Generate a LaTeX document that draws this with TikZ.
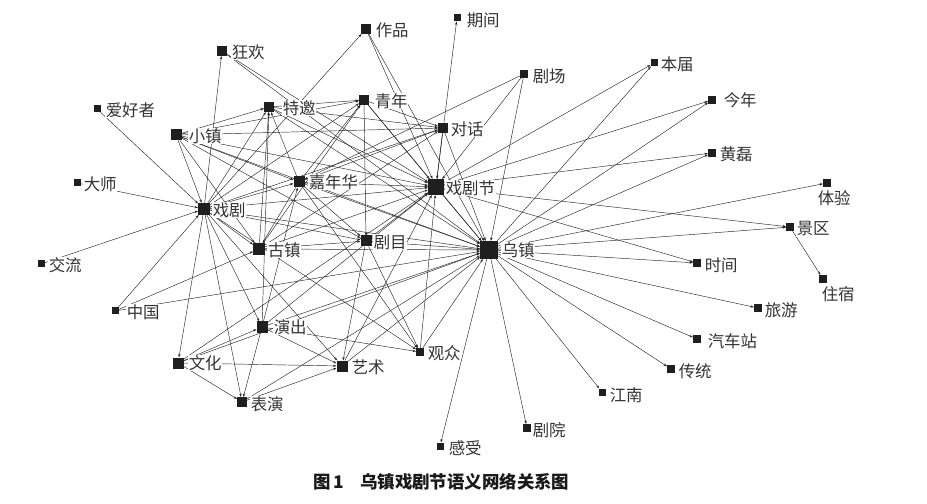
\documentclass[tikz,border=0pt]{standalone}
\usepackage{fontspec}
\newfontfamily\cjk{Noto Sans CJK SC}
\usetikzlibrary{arrows.meta}
\pgfdeclarelayer{bg}
\pgfsetlayers{bg,main}
\begin{document}
\begin{tikzpicture}[x=1bp,y=-1bp,
  sq/.style={fill=black!88, draw=none, minimum size=#1, inner sep=0pt, outer sep=0pt},
  lbl/.style={anchor=west, fill=white, inner sep=0.6bp, font=\cjk\fontsize{16.5}{17}\selectfont, text=black!80},
  lblb/.style={anchor=north west, fill=white, inner sep=0.6bp, font=\cjk\fontsize{16.5}{17}\selectfont, text=black!80},
  edge/.style={-{Stealth[length=3.5bp,width=2.4bp]}, line width=0.45bp, black!85},
  captext/.style={anchor=west, inner sep=0pt, font=\cjk\bfseries\fontsize{17.5}{18}\selectfont, text=black!90}]
\useasboundingbox (0,0) rectangle (927,504);
% squares
\node[sq=7bp]  (qijian)     at (457,18)  {};
\node[sq=10bp] (zuopin)     at (366,29)  {};
\node[sq=10bp] (kuanghuan)  at (222,51)  {};
\node[sq=8bp]  (juchang)    at (524,74)  {};
\node[sq=7bp]  (benjie)     at (654,63)  {};
\node[sq=8bp]  (jinnian)    at (712,100) {};
\node[sq=10bp] (teyao)      at (269,107) {};
\node[sq=10bp] (qingnian)   at (364,100) {};
\node[sq=7bp]  (aihaozhe)   at (97,109)  {};
\node[sq=11bp] (xiaozhen)   at (176,135) {};
\node[sq=10bp] (duihua)     at (443,128) {};
\node[sq=8bp]  (huanglei)   at (712,153) {};
\node[sq=7bp]  (dashi)      at (77,183)  {};
\node[sq=11bp] (jianianhua) at (299,182) {};
\node[sq=16bp] (xjj)        at (436,187) {};
\node[sq=8bp]  (tiyan)      at (827,183) {};
\node[sq=12bp] (xiju)       at (204,209) {};
\node[sq=8bp]  (jingqu)     at (790,227) {};
\node[sq=11bp] (jumu)       at (366,241) {};
\node[sq=12bp] (guzhen)     at (259,249) {};
\node[sq=18bp] (wuzhen)     at (489,250) {};
\node[sq=7bp]  (jiaoliu)    at (41,264)  {};
\node[sq=8bp]  (shijian)    at (697,263) {};
\node[sq=8bp]  (zhusu)      at (823,279) {};
\node[sq=7bp]  (zhongguo)   at (115,311) {};
\node[sq=8bp]  (lvyou)      at (758,308) {};
\node[sq=11bp] (yanchu)     at (262,327) {};
\node[sq=8bp]  (guanzhong)  at (420,352) {};
\node[sq=8bp]  (qichezhan)  at (697,339) {};
\node[sq=11bp] (wenhua)     at (178,363) {};
\node[sq=11bp] (yishu)      at (342,366) {};
\node[sq=8bp]  (chuantong)  at (671,369) {};
\node[sq=7bp]  (jiangnan)   at (602,392) {};
\node[sq=10bp] (biaoyan)    at (242,402) {};
\node[sq=8bp]  (juyuan)     at (527,428) {};
\node[sq=7bp]  (ganshou)    at (440,446) {};
% labels
\node[lbl] (l-qijian)     at (466,20)  {期间};
\node[lbl] (l-zuopin)     at (375,30)  {作品};
\node[lbl] (l-kuanghuan)  at (231,52)  {狂欢};
\node[lbl] (l-juchang)    at (532,76)  {剧场};
\node[lbl] (l-benjie)     at (660,64)  {本届};
\node[lbl] (l-jinnian)    at (723,100) {今年};
\node[lbl] (l-teyao)      at (282,108) {特邀};
\node[lbl] (l-qingnian)   at (374,101) {青年};
\node[lbl] (l-aihaozhe)   at (105,110) {爱好者};
\node[lbl] (l-xiaozhen)   at (188,136) {小镇};
\node[lbl] (l-duihua)     at (450,129) {对话};
\node[lbl] (l-huanglei)   at (719,154) {黄磊};
\node[lbl] (l-dashi)      at (83,184)  {大师};
\node[lbl] (l-jianianhua) at (308,182) {嘉年华};
\node[lbl] (l-xjj)        at (445,188) {戏剧节};
\node[lblb] (l-tiyan)     at (817,190) {体验};
\node[lbl] (l-xiju)       at (212,210) {戏剧};
\node[lbl] (l-jingqu)     at (796,229) {景区};
\node[lbl] (l-jumu)       at (373,242) {剧目};
\node[lbl] (l-guzhen)     at (267,250) {古镇};
\node[lbl] (l-wuzhen)     at (501,250) {乌镇};
\node[lbl] (l-jiaoliu)    at (48,265)  {交流};
\node[lbl] (l-shijian)    at (704,265) {时间};
\node[lblb] (l-zhusu)     at (821,286) {住宿};
\node[lbl] (l-zhongguo)   at (126,312) {中国};
\node[lbl] (l-lvyou)      at (764,310) {旅游};
\node[lbl] (l-yanchu)     at (273,327) {演出};
\node[lbl] (l-guanzhong)  at (427,353) {观众};
\node[lbl] (l-qichezhan)  at (707,341) {汽车站};
\node[lbl] (l-wenhua)     at (188,363) {文化};
\node[lbl] (l-yishu)      at (351,367) {艺术};
\node[lbl] (l-chuantong)  at (678,371) {传统};
\node[lbl] (l-jiangnan)   at (609,395) {江南};
\node[lbl] (l-biaoyan)    at (250,404) {表演};
\node[lbl] (l-juyuan)     at (532,430) {剧院};
\node[lbl] (l-ganshou)    at (448,448) {感受};
% caption
\node[captext] (caption) at (313,482) {图\,1\hspace{16bp}乌镇戏剧节语义网络关系图};
% edges
\begin{pgfonlayer}{bg}
\foreach \a/\b in {
  xiaozhen/teyao, xiaozhen/qingnian, xiaozhen/duihua, xiaozhen/jianianhua, xiaozhen/xiju,
  xiaozhen/guzhen, xiaozhen/xjj, xiaozhen/wuzhen, xiaozhen/jumu,
  teyao/qingnian, teyao/duihua, teyao/xjj, teyao/wuzhen, jianianhua/teyao, xiju/teyao, guzhen/teyao,
  qingnian/duihua, qingnian/xjj, qingnian/wuzhen, jianianhua/qingnian, xiju/qingnian, guzhen/qingnian, qingnian/jumu,
  zuopin/xjj, zuopin/wuzhen, xiju/zuopin,
  duihua/xjj, duihua/wuzhen, xiju/duihua, jianianhua/duihua, guzhen/duihua,
  jianianhua/xjj, jianianhua/wuzhen, xiju/jianianhua, jianianhua/guzhen, jianianhua/jumu, jianianhua/guanzhong,
  xiju/xjj, xiju/wuzhen, xiju/guzhen, xiju/jumu, xiju/yanchu, xiju/wenhua, xiju/biaoyan, xiju/yishu, xiju/guanzhong,
  aihaozhe/xiju, dashi/xiju, jiaoliu/xiju, zhongguo/xiju, xiju/kuanghuan,
  guzhen/xjj, guzhen/wuzhen, guzhen/jumu, zhongguo/guzhen,
  jumu/xjj, jumu/wuzhen, jumu/guanzhong, jumu/yishu,
  xjj/wuzhen, xjj/qijian, xjj/benjie, xjj/jinnian, xjj/huanglei, xjj/jingqu, xjj/shijian,
  guanzhong/xjj, yanchu/xjj, yishu/xjj, wenhua/xjj,
  juchang/jianianhua, juchang/xjj, juchang/wuzhen,
  wuzhen/benjie, wuzhen/jinnian, wuzhen/huanglei, wuzhen/tiyan, wuzhen/jingqu, wuzhen/shijian,
  wuzhen/lvyou, wuzhen/qichezhan, wuzhen/chuantong, wuzhen/jiangnan, wuzhen/juyuan, wuzhen/ganshou,
  guanzhong/wuzhen, yanchu/wuzhen, yishu/wuzhen, biaoyan/wuzhen, wenhua/wuzhen, zhongguo/wuzhen,
  yanchu/guanzhong, yanchu/yishu, yanchu/biaoyan, wenhua/yanchu, yanchu/jianianhua, yanchu/teyao,
  jingqu/zhusu, biaoyan/yishu, wenhua/biaoyan, wenhua/yishu,
  kuanghuan/xjj, kuanghuan/wuzhen}
  \draw[edge] (\a) -- (\b);
\end{pgfonlayer}
\end{tikzpicture}
\end{document}
